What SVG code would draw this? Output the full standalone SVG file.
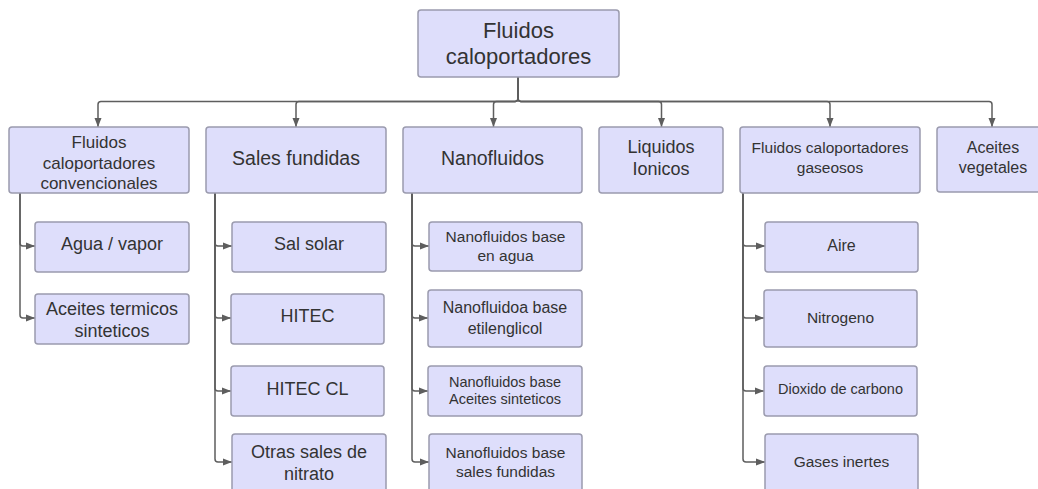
<svg xmlns="http://www.w3.org/2000/svg" width="1038" height="489" viewBox="0 0 1038 489">
<style>
.box{fill:#dedefb;stroke:#9b9bae;stroke-width:1.5}
text{font-family:"Liberation Sans",Arial,sans-serif;fill:#333333;text-anchor:middle}
.c{fill:none;stroke:#5e5e5e;stroke-width:1.5}
</style>
<defs>
<marker id="ah" markerUnits="userSpaceOnUse" markerWidth="10" markerHeight="10" refX="9" refY="5" orient="auto">
<path d="M0,1.5 L9,5 L0,8.5 z" fill="#5e5e5e"/>
</marker>
</defs>
<rect width="1038" height="489" fill="#ffffff"/>
<g id="connectors">
<path class="c" marker-end="url(#ah)" d="M518,77 V98.5 q0,3 -3,3 H101 q-3,0 -3,3 V127"/>
<path class="c" marker-end="url(#ah)" d="M518,77 V98.5 q0,3 -3,3 H299 q-3,0 -3,3 V127"/>
<path class="c" marker-end="url(#ah)" d="M518,77 V98.5 q0,3 -3,3 H496.5 q-3,0 -3,3 V127"/>
<path class="c" marker-end="url(#ah)" d="M518,77 V98.5 q0,3 3,3 H658.5 q3,0 3,3 V127"/>
<path class="c" marker-end="url(#ah)" d="M518,77 V98.5 q0,3 3,3 H827 q3,0 3,3 V127"/>
<path class="c" marker-end="url(#ah)" d="M518,77 V98.5 q0,3 3,3 H989 q3,0 3,3 V127"/>
<path class="c" marker-end="url(#ah)" d="M20,193 V243 q0,3 3,3 H35"/>
<path class="c" marker-end="url(#ah)" d="M20,193 V315 q0,3 3,3 H35"/>
<path class="c" marker-end="url(#ah)" d="M215,193 V243 q0,3 3,3 H232"/>
<path class="c" marker-end="url(#ah)" d="M215,193 V315 q0,3 3,3 H231"/>
<path class="c" marker-end="url(#ah)" d="M215,193 V388 q0,3 3,3 H231"/>
<path class="c" marker-end="url(#ah)" d="M215,193 V459 q0,3 3,3 H232"/>
<path class="c" marker-end="url(#ah)" d="M412,193 V243 q0,3 3,3 H429"/>
<path class="c" marker-end="url(#ah)" d="M412,193 V315 q0,3 3,3 H428"/>
<path class="c" marker-end="url(#ah)" d="M412,193 V388 q0,3 3,3 H428"/>
<path class="c" marker-end="url(#ah)" d="M412,193 V459 q0,3 3,3 H429"/>
<path class="c" marker-end="url(#ah)" d="M743,193 V243 q0,3 3,3 H765"/>
<path class="c" marker-end="url(#ah)" d="M743,193 V315 q0,3 3,3 H764"/>
<path class="c" marker-end="url(#ah)" d="M743,193 V388 q0,3 3,3 H764"/>
<path class="c" marker-end="url(#ah)" d="M743,193 V459 q0,3 3,3 H765"/>
</g>
<g id="root"><rect class="box" x="418" y="10" width="201" height="67" rx="3"/>
<text font-size="22"><tspan x="518.5" y="37.5">Fluidos</tspan><tspan x="518.5" y="63.5">caloportadores</tspan></text></g>
<g id="n1"><rect class="box" x="9" y="127" width="180" height="66" rx="3"/>
<text font-size="17"><tspan x="99" y="148">Fluidos</tspan><tspan x="99" y="168.5">caloportadores</tspan><tspan x="99" y="189">convencionales</tspan></text></g>
<g id="n2"><rect class="box" x="206" y="127" width="180" height="66" rx="3"/>
<text font-size="19.5" x="296" y="165">Sales fundidas</text></g>
<g id="n3"><rect class="box" x="403" y="127" width="179" height="66" rx="3"/>
<text font-size="19.5" x="492.5" y="165">Nanofluidos</text></g>
<g id="n4"><rect class="box" x="599" y="127" width="124" height="66" rx="3"/>
<text font-size="18"><tspan x="661" y="153">Liquidos</tspan><tspan x="661" y="175">Ionicos</tspan></text></g>
<g id="n5"><rect class="box" x="740" y="127" width="180" height="66" rx="3"/>
<text font-size="15.5"><tspan x="830" y="152.5">Fluidos caloportadores</tspan><tspan x="830" y="172.5">gaseosos</tspan></text></g>
<g id="n6"><rect class="box" x="937" y="127" width="112" height="65" rx="3"/>
<text font-size="16"><tspan x="993" y="152.5">Aceites</tspan><tspan x="993" y="172.5">vegetales</tspan></text></g>
<g id="n1a"><rect class="box" x="35" y="222" width="154" height="50" rx="3"/>
<text font-size="18" x="112" y="250">Agua / vapor</text></g>
<g id="n1b"><rect class="box" x="35" y="294" width="154" height="50" rx="3"/>
<text font-size="18"><tspan x="112" y="315">Aceites termicos</tspan><tspan x="112" y="337">sinteticos</tspan></text></g>
<g id="n2a"><rect class="box" x="232" y="222" width="154" height="50" rx="3"/>
<text font-size="18" x="309" y="250">Sal solar</text></g>
<g id="n2b"><rect class="box" x="231" y="294" width="153" height="50" rx="3"/>
<text font-size="18" x="307.5" y="322">HITEC</text></g>
<g id="n2c"><rect class="box" x="231" y="366" width="153" height="50" rx="3"/>
<text font-size="18" x="307.5" y="395">HITEC CL</text></g>
<g id="n2d"><rect class="box" x="232" y="434" width="154" height="60" rx="3"/>
<text font-size="18"><tspan x="309" y="458">Otras sales de</tspan><tspan x="309" y="480">nitrato</tspan></text></g>
<g id="n3a"><rect class="box" x="429" y="222" width="153" height="49" rx="3"/>
<text font-size="15.5"><tspan x="505.5" y="241.5">Nanofluidos base</tspan><tspan x="505.5" y="260.5">en agua</tspan></text></g>
<g id="n3b"><rect class="box" x="428" y="290" width="154" height="57" rx="3"/>
<text font-size="16"><tspan x="505" y="312.5">Nanofluidoa base</tspan><tspan x="505" y="333.5">etilenglicol</tspan></text></g>
<g id="n3c"><rect class="box" x="428" y="366" width="154" height="50" rx="3"/>
<text font-size="14.5"><tspan x="505" y="387">Nanofluidos base</tspan><tspan x="505" y="404">Aceites sinteticos</tspan></text></g>
<g id="n3d"><rect class="box" x="429" y="434" width="153" height="60" rx="3"/>
<text font-size="15.5"><tspan x="505.5" y="457.5">Nanofluidos base</tspan><tspan x="505.5" y="476.5">sales fundidas</tspan></text></g>
<g id="n5a"><rect class="box" x="765" y="222" width="153" height="50" rx="3"/>
<text font-size="16" x="841.5" y="250.5">Aire</text></g>
<g id="n5b"><rect class="box" x="764" y="290" width="153" height="57" rx="3"/>
<text font-size="15.5" x="840.5" y="322.5">Nitrogeno</text></g>
<g id="n5c"><rect class="box" x="764" y="366" width="153" height="50" rx="3"/>
<text font-size="14.5" x="840.5" y="394">Dioxido de carbono</text></g>
<g id="n5d"><rect class="box" x="765" y="434" width="153" height="60" rx="3"/>
<text font-size="15.5" x="841.5" y="466.5">Gases inertes</text></g>
</svg>
